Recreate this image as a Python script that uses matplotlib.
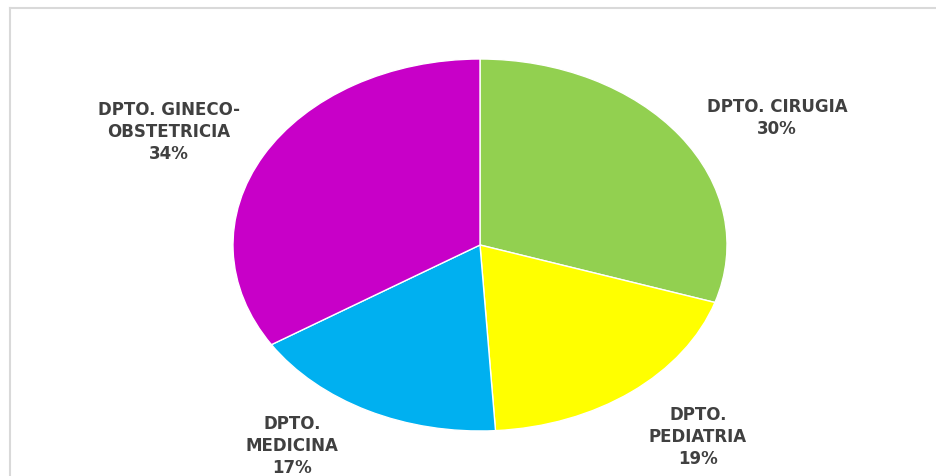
import matplotlib
matplotlib.use("Agg")
import matplotlib.pyplot as plt
from matplotlib.lines import Line2D

categories = ["DPTO. CIRUGIA", "DPTO.\nPEDIATRIA", "DPTO.\nMEDICINA", "DPTO. GINECO-\nOBSTETRICIA"]
values = [30, 19, 17, 34]
colors = ["#92D050", "#FFFF00", "#00B0F0", "#C800C8"]
# label block centres in pixels
label_pos = [(777, 118), (698, 437), (292, 446), (169, 132)]

W, H = 937, 477
fig = plt.figure(figsize=(W / 100, H / 100), dpi=100)
fig.patch.set_facecolor("white")

# frame lines
fig.add_artist(Line2D([10 / W, 10 / W], [0, 1 - 9 / H], transform=fig.transFigure, color="#d9d9d9", lw=1.5))
fig.add_artist(Line2D([10 / W, 1], [1 - 9 / H, 1 - 9 / H], transform=fig.transFigure, color="#d9d9d9", lw=1.5))

cx, cy, rx, ry = 480, 246, 247, 186
ax = fig.add_axes([(cx - rx) / W, (H - cy - ry) / H, 2 * rx / W, 2 * ry / H])
ax.pie(values, colors=colors, startangle=90, counterclock=False, radius=1,
       wedgeprops=dict(linewidth=1, edgecolor="white"))
ax.set_aspect("auto")
ax.set_xlim(-1, 1)
ax.set_ylim(-1, 1)
ax.axis("off")

for cat, v, (x, y) in zip(categories, values, label_pos):
    fig.text(x / W, 1 - y / H, f"{cat}\n{v}%", ha="center", va="center",
             fontsize=12, fontweight="bold", color="#404040",
             family="DejaVu Sans", linespacing=1.32)

fig.savefig("out.png", dpi=100, facecolor="white")
